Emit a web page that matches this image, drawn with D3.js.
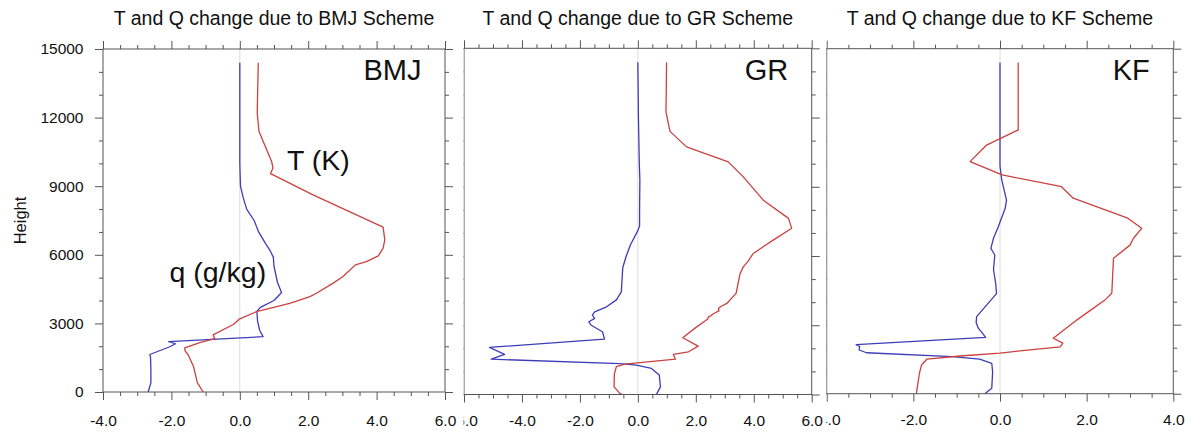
<!DOCTYPE html>
<html>
<head>
<meta charset="utf-8">
<script src="https://cdn.jsdelivr.net/npm/d3@7"></script>
<style>
  body { margin: 0; background: #fff; }
  svg { display: block; }
  text { font-family: "Liberation Sans", Arial, Helvetica, sans-serif; fill: #111; }
</style>
</head>
<body>
<svg id="chart" width="1188" height="432"></svg>
<script>
// ---- data: vertical profiles, pairs of [height (m), change] ----
const schemes = ["BMJ", "GR", "KF"];
const titles = schemes.map(s => `T and Q change due to ${s} Scheme`);
const heightTicks = [0, 3000, 6000, 9000, 12000, 15000];
const xDomains = [[-4, 6], [-6, 6], [-4, 4]];
const qLabel = "q (g/kg)";
const tLabel = "T (K)";
const yTitle = "Height";

const bmjQ = [[14400,0.0],[12000,0.0],[10000,0.0],[9000,0.02],[8500,0.1],[8000,0.2],[7500,0.42],[7000,0.55],
  [6500,0.75],[6200,0.88],[5900,0.98],[5500,1.0],[4800,1.1],[4350,1.22],[4000,1.0],[3700,0.6],[3520,0.5],
  [3100,0.52],[2700,0.58],[2420,0.68],[2200,-2.08],[2110,-1.88],[1990,-2.03],[1640,-2.63],[1500,-2.61],
  [1000,-2.6],[400,-2.6],[0,-2.68]];
const bmjT = [[14400,0.54],[13000,0.52],[12200,0.51],[11400,0.56],[10080,0.93],[9800,0.97],[9550,0.9],
  [8620,2.14],[7210,4.19],[6650,4.24],[6290,4.19],[5950,4.05],[5700,3.7],[5560,3.38],[5050,3.02],[4760,2.73],
  [4320,2.24],[4170,2.05],[3880,1.46],[3515,0.49],[3200,0.0],[2950,-0.19],[2500,-0.78],[2330,-0.73],
  [2160,-1.17],[1930,-1.61],[1800,-1.6],[1600,-1.5],[1100,-1.35],[400,-1.24],[0,-1.07]];

const grQ = [[14400,0.0],[12000,0.02],[10000,0.05],[9300,0.07],[8000,0.06],[7300,0.06],[7100,0.0],[6500,-0.25],
  [6000,-0.4],[5500,-0.52],[4900,-0.55],[4450,-0.57],[4100,-0.74],[3800,-1.08],[3580,-1.49],[3440,-1.57],
  [3300,-1.49],[3150,-1.69],[3000,-1.61],[2720,-1.22],[2400,-1.15],[2040,-5.12],[1740,-4.6],[1530,-5.06],
  [1340,-0.62],[1270,-0.05],[1130,0.47],[840,0.74],[330,0.78],[50,0.66],[0,0.62]];
const grT = [[14400,0.99],[13000,0.98],[12250,0.97],[11400,1.11],[10730,1.68],[10080,3.12],[9430,3.64],
  [8420,4.33],[7630,5.2],[7200,5.31],[6690,4.67],[6110,3.98],[5800,3.82],[5530,3.64],[5245,3.53],[4380,3.39],
  [3945,3.07],[3800,2.85],[3730,2.78],[3620,2.8],[3510,2.62],[3400,2.5],[3364,2.43],[3280,2.42],[3192,2.33],
  [2930,2.03],[2460,1.55],[2094,2.08],[1850,1.75],[1740,1.22],[1530,1.3],[1320,-0.45],[1210,-0.74],
  [900,-0.81],[330,-0.82],[50,-0.62],[0,-0.55]];

const kfQ = [[14400,0.0],[12000,0.0],[9900,0.0],[9300,0.04],[8420,0.15],[8060,0.12],[7260,-0.04],[6760,-0.15],
  [6320,-0.21],[6030,-0.12],[5400,-0.15],[4800,-0.1],[4350,-0.08],[3850,-0.31],[3350,-0.54],[3100,-0.55],
  [2850,-0.5],[2450,-0.33],[2130,-3.32],[2050,-3.24],[1900,-3.25],[1780,-3.08],[1610,-1.1],[1500,-0.47],
  [1320,-0.19],[950,-0.17],[240,-0.19],[0,-0.35]];
const kfT = [[14400,0.42],[11470,0.42],[10810,-0.31],[10090,-0.69],[9510,0.05],[9000,1.42],[8500,1.69],
  [7630,2.95],[7190,3.27],[6760,3.08],[6460,3.0],[5890,2.62],[4370,2.58],[4070,2.42],[3710,2.15],[3200,1.77],
  [2410,1.23],[2200,1.45],[2040,1.39],[1860,0.46],[1760,0.0],[1640,-0.92],[1500,-1.69],[1250,-1.81],
  [890,-1.86],[0,-1.93]];

const qSeries = [bmjQ, grQ, kfQ];
const tSeries = [bmjT, grT, kfT];

// ---- layout: each panel is cut to its own strip ----
const frames = [
  { left: 103,   right: 445,    top: 49,   bottom: 392,   clipL: 0,     clipR: 460 },
  { left: 464,   right: 811.7,  top: 48.3, bottom: 394.5, clipL: 463.6, clipR: 826.3 },
  { left: 826.7, right: 1173.3, top: 48.7, bottom: 393.7, clipL: 826.3, clipR: 1188 }
];
const qColor = "#3d3db8";
const tColor = "#cc4040";
const axisColor = "#555";
const labelBaseline = 425.5;
const tickFont = 15.5;
const fmt = d => d.toFixed(1);

const svg = d3.select("#chart");
const defs = svg.append("defs");

frames.forEach((f, i) => {
  defs.append("clipPath").attr("id", "clip" + i)
    .append("rect").attr("x", f.clipL).attr("y", 0)
    .attr("width", f.clipR - f.clipL).attr("height", 432);

  const g = svg.append("g").attr("clip-path", `url(#clip${i})`);
  const [x0, x1] = xDomains[i];
  const x = d3.scaleLinear().domain([x0, x1]).range([f.left, f.right]);
  const y = d3.scaleLinear().domain([0, 15000]).range([f.bottom, f.top]);

  const majorX = d3.range(x0, x1 + 0.001, 2);
  const minorX = d3.range(x0, x1 + 0.001, 0.5).filter(v => Math.abs(v / 2 - Math.round(v / 2)) > 1e-6);
  const minorY = d3.range(0, 15001, 1000).filter(v => v % 3000 !== 0);

  // zero reference line
  g.append("line")
    .attr("x1", x(0)).attr("x2", x(0)).attr("y1", y(0)).attr("y2", y(15000))
    .attr("stroke", "#dcdcdc").attr("stroke-width", 1);

  // profiles
  const line = d3.line().x(d => x(d[1])).y(d => y(d[0]));
  g.append("path").datum(qSeries[i]).attr("d", line)
    .attr("fill", "none").attr("stroke", qColor).attr("stroke-width", 1.3).attr("stroke-linejoin", "round");
  g.append("path").datum(tSeries[i]).attr("d", line)
    .attr("fill", "none").attr("stroke", tColor).attr("stroke-width", 1.3).attr("stroke-linejoin", "round");

  // axes: majors (8px) and minors (4px), outward on all sides
  const pad = labelBaseline - f.bottom - 8 - 0.71 * tickFont;
  const styleAxis = sel => {
    sel.select(".domain").remove();
    sel.selectAll("line").attr("stroke", axisColor);
    sel.selectAll("text").attr("font-size", tickFont).attr("fill", "#111")
      .attr("font-family", '"Liberation Sans", Arial, sans-serif');
  };
  g.append("g").attr("transform", `translate(0,${f.bottom})`)
    .call(d3.axisBottom(x).tickValues(majorX).tickSize(8).tickPadding(pad).tickFormat(fmt)).call(styleAxis);
  g.append("g").attr("transform", `translate(0,${f.bottom})`)
    .call(d3.axisBottom(x).tickValues(minorX).tickSize(4).tickFormat("")).call(styleAxis);
  g.append("g").attr("transform", `translate(0,${f.top})`)
    .call(d3.axisTop(x).tickValues(majorX).tickSize(8).tickFormat("")).call(styleAxis);
  g.append("g").attr("transform", `translate(0,${f.top})`)
    .call(d3.axisTop(x).tickValues(minorX).tickSize(4).tickFormat("")).call(styleAxis);

  const leftAxis = d3.axisLeft(y).tickValues(heightTicks).tickSize(8).tickPadding(11.5);
  leftAxis.tickFormat(i === 0 ? d3.format("d") : "");
  g.append("g").attr("transform", `translate(${f.left},0)`).call(leftAxis).call(styleAxis);
  g.append("g").attr("transform", `translate(${f.left},0)`)
    .call(d3.axisLeft(y).tickValues(minorY).tickSize(4).tickFormat("")).call(styleAxis);
  g.append("g").attr("transform", `translate(${f.right},0)`)
    .call(d3.axisRight(y).tickValues(heightTicks).tickSize(8).tickFormat("")).call(styleAxis);
  g.append("g").attr("transform", `translate(${f.right},0)`)
    .call(d3.axisRight(y).tickValues(minorY).tickSize(4).tickFormat("")).call(styleAxis);

  // frame
  g.append("rect")
    .attr("x", f.left).attr("y", f.top)
    .attr("width", f.right - f.left).attr("height", f.bottom - f.top)
    .attr("fill", "none").attr("stroke", axisColor).attr("stroke-width", 1);

  // scheme name inside the frame
  g.append("text")
    .attr("x", f.right - 23.5).attr("y", 80)
    .attr("text-anchor", "end").attr("font-size", 29)
    .text(schemes[i]);

  // panel title
  svg.append("text")
    .attr("x", (f.left + f.right) / 2).attr("y", 25)
    .attr("text-anchor", "middle").attr("font-size", 19.5)
    .text(titles[i]);

  if (i === 0) {
    g.append("text").attr("x", 287).attr("y", 170).attr("font-size", 28.5).text(tLabel);
    g.append("text").attr("x", 169.5).attr("y", 282).attr("font-size", 28.5).text(qLabel);
    svg.append("text")
      .attr("transform", `translate(25.5,${(f.top + f.bottom) / 2}) rotate(-90)`)
      .attr("text-anchor", "middle").attr("font-size", 16.5)
      .text(yTitle);
  }
});
</script>
</body>
</html>
